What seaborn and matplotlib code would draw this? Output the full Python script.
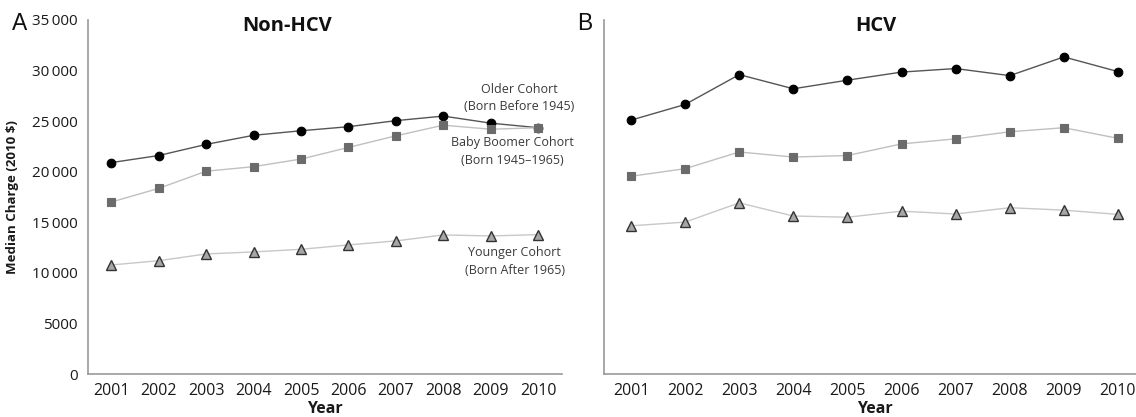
import numpy as np
import pandas as pd
import matplotlib
matplotlib.use("Agg")
import matplotlib.pyplot as plt
import seaborn as sns
from matplotlib.ticker import FixedLocator, FuncFormatter

# Median hospital charge (2010 dollars) by birth cohort
years = [2001, 2002, 2003, 2004, 2005, 2006, 2007, 2008, 2009, 2010]

nonhcv_older = [20900, 21600, 22700, 23600, 24050, 24450, 25050, 25500, 24800, 24350]
nonhcv_boomer = [17000, 18350, 20050, 20500, 21250, 22400, 23550, 24600, 24200, 24350]
nonhcv_younger = [10780, 11200, 11870, 12070, 12330, 12760, 13160, 13750, 13650, 13780]

hcv_older = [25100, 26650, 29600, 28200, 29050, 29850, 30200, 29500, 31350, 29900]
hcv_boomer = [19550, 20300, 21950, 21450, 21600, 22750, 23250, 23950, 24350, 23300]
hcv_younger = [14650, 15020, 16920, 15620, 15500, 16100, 15820, 16440, 16200, 15780]

cohorts = ["Older", "Baby Boomer", "Younger"]
panel_titles = ["Non-HCV", "HCV"]
panel_letters = ["A", "B"]
y_ticks = [0, 5000, 10000, 15000, 20000, 25000, 30000, 35000]

sns.set_style("white")
plt.rcParams["font.family"] = ["Open Sans", "DejaVu Sans"]

styles = {
    "Older": dict(color="#555555", marker="o", markerfacecolor="#000000",
                  markeredgecolor="#000000", markersize=6.2, markeredgewidth=0.8),
    "Baby Boomer": dict(color="#c0c0c0", marker="s", markerfacecolor="#6b6b6b",
                        markeredgecolor="#6b6b6b", markersize=5.6, markeredgewidth=0.8),
    "Younger": dict(color="#c8c8c8", marker="^", markerfacecolor="#a6a6a6",
                    markeredgecolor="#333333", markersize=7.0, markeredgewidth=1.0),
}

W, H = 1136, 417
fig = plt.figure(figsize=(W / 100, H / 100), dpi=100)
bottom, top = 374, 20
axA = fig.add_axes([87.5 / W, 1 - bottom / H, 474.5 / W, (bottom - top) / H])
axB = fig.add_axes([604 / W, 1 - bottom / H, 541 / W, (bottom - top) / H])

panels = [
    (axA, [nonhcv_older, nonhcv_boomer, nonhcv_younger]),
    (axB, [hcv_older, hcv_boomer, hcv_younger]),
]

for ax, series in panels:
    df = pd.DataFrame({"Year": years * 3,
                       "Charge": sum(series, []),
                       "Cohort": np.repeat(cohorts, len(years))})
    for name in cohorts:
        sub = df[df["Cohort"] == name]
        sns.lineplot(data=sub, x="Year", y="Charge", ax=ax, linewidth=1.0,
                     legend=False, **styles[name])
    for line in ax.lines:
        line.set_zorder(3)

    ax.set_xlim(2000.5, 2010.5)
    ax.set_ylim(0, 35000)
    ax.xaxis.set_major_locator(FixedLocator(years))
    ax.xaxis.set_minor_locator(FixedLocator(np.arange(2000.5, 2011, 1.0)))
    ax.yaxis.set_major_locator(FixedLocator(y_ticks))
    ax.tick_params(axis="x", which="major", length=0, pad=6.5, labelsize=11.5,
                   labelcolor="#1a1a1a")
    ax.tick_params(axis="x", which="minor", length=3, width=1.0, color="#9a9a9a",
                   direction="out")
    ax.tick_params(axis="y", which="major", length=3, width=1.0, color="#9a9a9a",
                   direction="out", pad=4, labelsize=11, labelcolor="#1a1a1a")
    for side in ("top", "right"):
        ax.spines[side].set_visible(False)
    for side in ("left", "bottom"):
        ax.spines[side].set_color("#9a9a9a")
        ax.spines[side].set_linewidth(1.2)
    ax.set_xlabel("Year", fontsize=11.5, fontweight="bold", color="#1a1a1a")
    ax.xaxis.label.set_va("center")
    ax.xaxis.set_label_coords(0.5, -(409 - bottom) / (bottom - top))
    ax.set_ylabel("")

axA.yaxis.set_major_formatter(FuncFormatter(
    lambda v, p: f"{int(v):d}" if v < 10000 else f"{int(v) // 1000}\u2009{int(v) % 1000:03d}"))
axB.yaxis.set_major_formatter(FuncFormatter(lambda v, p: ""))

axA.set_ylabel("Median Charge (2010 $)", fontsize=9.5, fontweight="bold", color="#1a1a1a")
axA.yaxis.set_label_coords(-(87.5 - 19) / 474.5, 0.5)

# Panel titles
axA.text((287 - 87.5) / 474.5, 1 - (26 - top) / (bottom - top), panel_titles[0],
         transform=axA.transAxes, ha="center", va="center", fontsize=14.5,
         fontweight="bold", color="#111111")
axB.text((876 - 604) / 541, 1 - (26 - top) / (bottom - top), panel_titles[1],
         transform=axB.transAxes, ha="center", va="center", fontsize=14.5,
         fontweight="bold", color="#111111")

# Panel letters
fig.text(12 / W, 1 - 23.5 / H, panel_letters[0], ha="left", va="center",
         fontsize=16.5, family="Liberation Sans", color="#111111")
fig.text(577 / W, 1 - 23.5 / H, panel_letters[1], ha="left", va="center",
         fontsize=16.5, family="Liberation Sans", color="#111111")

# Cohort labels in panel A
note_kw = dict(ha="center", va="center", fontsize=9, color="#3a3a3a", linespacing=1.45)
axA.text(2009.6, 27300, "Older Cohort\n(Born Before 1945)", **note_kw)
axA.text(2009.46, 22000, "Baby Boomer Cohort\n(Born 1945\u20131965)", **note_kw)
axA.text(2009.5, 11100, "Younger Cohort\n(Born After 1965)", **note_kw)

fig.savefig("out.png", dpi=100)
